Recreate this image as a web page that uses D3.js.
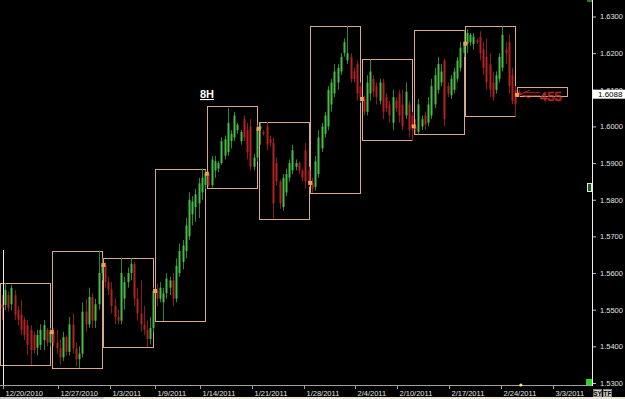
<!DOCTYPE html>
<html>
<head>
<meta charset="utf-8">
<script src="https://cdn.jsdelivr.net/npm/d3@7"></script>
<style>
  body { margin: 0; background: #000; overflow: hidden; }
  svg { display: block; font-family: "Liberation Sans", Arial, sans-serif; }
</style>
</head>
<body>
<script>
//wrap everything in a self-executing anonymous function
(function(){

//8H bars, one array per week: [open, high, low, close]
var week1 = [
    [1.5513, 1.5540, 1.5472, 1.5505], [1.5513, 1.5573, 1.5499, 1.5554], [1.5540, 1.5550, 1.5495, 1.5505], [1.5515, 1.5568, 1.5499, 1.5559],
    [1.5540, 1.5554, 1.5472, 1.5486], [1.5499, 1.5510, 1.5458, 1.5472], [1.5486, 1.5527, 1.5431, 1.5445], [1.5472, 1.5480, 1.5417, 1.5431],
    [1.5458, 1.5472, 1.5376, 1.5404], [1.5445, 1.5458, 1.5349, 1.5390], [1.5431, 1.5440, 1.5380, 1.5390], [1.5396, 1.5445, 1.5376, 1.5431],
    [1.5404, 1.5460, 1.5390, 1.5445], [1.5417, 1.5472, 1.5390, 1.5458], [1.5445, 1.5450, 1.5400, 1.5410], [1.5410, 1.5450, 1.5400, 1.5439]
];
var week2 = [
    [1.5439, 1.5450, 1.5400, 1.5410], [1.5410, 1.5445, 1.5380, 1.5395], [1.5395, 1.5420, 1.5350, 1.5370], [1.5370, 1.5440, 1.5360, 1.5425],
    [1.5425, 1.5430, 1.5375, 1.5385], [1.5385, 1.5480, 1.5375, 1.5460], [1.5460, 1.5490, 1.5380, 1.5395], [1.5395, 1.5410, 1.5345, 1.5365],
    [1.5365, 1.5400, 1.5341, 1.5380], [1.5380, 1.5520, 1.5370, 1.5495], [1.5495, 1.5530, 1.5440, 1.5460], [1.5460, 1.5560, 1.5450, 1.5535],
    [1.5535, 1.5545, 1.5450, 1.5470], [1.5470, 1.5530, 1.5450, 1.5515], [1.5515, 1.5661, 1.5500, 1.5600], [1.5600, 1.5640, 1.5580, 1.5622]
];
var week3 = [
    [1.5622, 1.5630, 1.5560, 1.5575], [1.5575, 1.5590, 1.5540, 1.5555], [1.5555, 1.5575, 1.5490, 1.5510], [1.5510, 1.5530, 1.5460, 1.5480],
    [1.5480, 1.5500, 1.5460, 1.5470], [1.5470, 1.5642, 1.5460, 1.5600], [1.5530, 1.5590, 1.5500, 1.5575], [1.5575, 1.5615, 1.5560, 1.5600],
    [1.5600, 1.5640, 1.5580, 1.5625], [1.5625, 1.5630, 1.5510, 1.5530], [1.5530, 1.5560, 1.5470, 1.5490], [1.5490, 1.5580, 1.5440, 1.5460],
    [1.5460, 1.5510, 1.5430, 1.5445], [1.5445, 1.5470, 1.5398, 1.5420], [1.5420, 1.5480, 1.5405, 1.5450], [1.5450, 1.5560, 1.5440, 1.5551]
];
var week4 = [
    [1.5551, 1.5570, 1.5510, 1.5530], [1.5530, 1.5575, 1.5520, 1.5560], [1.5520, 1.5560, 1.5469, 1.5545], [1.5545, 1.5600, 1.5530, 1.5585],
    [1.5560, 1.5590, 1.5540, 1.5580], [1.5580, 1.5600, 1.5510, 1.5530], [1.5530, 1.5640, 1.5520, 1.5620], [1.5600, 1.5680, 1.5590, 1.5660],
    [1.5630, 1.5690, 1.5610, 1.5675], [1.5660, 1.5750, 1.5640, 1.5730], [1.5700, 1.5820, 1.5690, 1.5800], [1.5760, 1.5810, 1.5730, 1.5795],
    [1.5780, 1.5830, 1.5740, 1.5815], [1.5790, 1.5860, 1.5750, 1.5845], [1.5820, 1.5885, 1.5800, 1.5860], [1.5840, 1.5880, 1.5830, 1.5871]
];
var week5 = [
    [1.5871, 1.5875, 1.5835, 1.5840], [1.5840, 1.5920, 1.5833, 1.5910], [1.5880, 1.5920, 1.5860, 1.5905], [1.5885, 1.5905, 1.5875, 1.5900],
    [1.5900, 1.5970, 1.5895, 1.5960], [1.5920, 1.5975, 1.5910, 1.5965], [1.5930, 1.6050, 1.5920, 1.6010], [1.5960, 1.5990, 1.5940, 1.5980],
    [1.5970, 1.6040, 1.5960, 1.6030], [1.5990, 1.6010, 1.5980, 1.6005], [1.5960, 1.5990, 1.5950, 1.5985], [1.6020, 1.6030, 1.5960, 1.5970],
    [1.5990, 1.6010, 1.5910, 1.5930], [1.6000, 1.6020, 1.5880, 1.5890], [1.5890, 1.5925, 1.5880, 1.5915], [1.5915, 1.6005, 1.5905, 1.5994]
];
var week6 = [
    [1.5994, 1.6010, 1.5950, 1.6000], [1.5985, 1.5990, 1.5975, 1.5980], [1.6000, 1.6013, 1.5935, 1.5950], [1.5965, 1.5975, 1.5945, 1.5955],
    [1.5955, 1.5970, 1.5748, 1.5790], [1.5900, 1.5915, 1.5840, 1.5850], [1.5850, 1.5855, 1.5775, 1.5790], [1.5780, 1.5870, 1.5770, 1.5860],
    [1.5820, 1.5885, 1.5810, 1.5870], [1.5860, 1.5910, 1.5850, 1.5900], [1.5880, 1.5950, 1.5870, 1.5935], [1.5890, 1.5910, 1.5880, 1.5900],
    [1.5900, 1.5905, 1.5870, 1.5880], [1.5880, 1.5885, 1.5850, 1.5860], [1.5935, 1.5955, 1.5830, 1.5850], [1.5880, 1.5890, 1.5835, 1.5846]
];
var week7 = [
    [1.5846, 1.5860, 1.5819, 1.5830], [1.5835, 1.5920, 1.5825, 1.5905], [1.5870, 1.5990, 1.5860, 1.5970], [1.5940, 1.6010, 1.5930, 1.6000],
    [1.5980, 1.6040, 1.5970, 1.6030], [1.6000, 1.6110, 1.5990, 1.6100], [1.6060, 1.6130, 1.6040, 1.6120], [1.6090, 1.6170, 1.6080, 1.6150],
    [1.6120, 1.6170, 1.6100, 1.6160], [1.6150, 1.6200, 1.6140, 1.6190], [1.6200, 1.6240, 1.6190, 1.6230], [1.6180, 1.6275, 1.6170, 1.6200],
    [1.6190, 1.6200, 1.6120, 1.6130], [1.6150, 1.6160, 1.6120, 1.6130], [1.6170, 1.6180, 1.6070, 1.6090], [1.6110, 1.6120, 1.6065, 1.6080]
];
var week8 = [
    [1.6075, 1.6085, 1.6030, 1.6040], [1.6040, 1.6140, 1.6030, 1.6120], [1.6090, 1.6183, 1.6070, 1.6150], [1.6130, 1.6140, 1.6080, 1.6095],
    [1.6110, 1.6120, 1.6060, 1.6080], [1.6070, 1.6130, 1.6060, 1.6120], [1.6120, 1.6130, 1.6020, 1.6040], [1.6080, 1.6090, 1.6040, 1.6050],
    [1.6060, 1.6070, 1.6010, 1.6030], [1.6010, 1.6100, 1.5990, 1.6080], [1.6070, 1.6080, 1.6040, 1.6050], [1.6090, 1.6100, 1.6010, 1.6030],
    [1.6060, 1.6100, 1.5990, 1.6000], [1.6030, 1.6120, 1.6020, 1.6095], [1.6060, 1.6070, 1.5970, 1.5990], [1.6030, 1.6040, 1.5961, 1.6000]
];
var week9 = [
    [1.6000, 1.6020, 1.5980, 1.5990], [1.5985, 1.6075, 1.5978, 1.6060], [1.6000, 1.6030, 1.5990, 1.6020], [1.6030, 1.6040, 1.5990, 1.6005],
    [1.6010, 1.6080, 1.6000, 1.6060], [1.6030, 1.6130, 1.6020, 1.6110], [1.6060, 1.6160, 1.6050, 1.6140], [1.6100, 1.6190, 1.6090, 1.6170],
    [1.6120, 1.6170, 1.6110, 1.6150], [1.6180, 1.6185, 1.6000, 1.6020], [1.6110, 1.6120, 1.6080, 1.6090], [1.6085, 1.6140, 1.6075, 1.6130],
    [1.6100, 1.6160, 1.6090, 1.6150], [1.6130, 1.6190, 1.6120, 1.6180], [1.6160, 1.6230, 1.6150, 1.6215], [1.6200, 1.6262, 1.6190, 1.6226]
];
var week10 = [
    [1.6226, 1.6265, 1.6200, 1.6255], [1.6230, 1.6255, 1.6220, 1.6250], [1.6225, 1.6255, 1.6210, 1.6245], [1.6235, 1.6240, 1.6225, 1.6230],
    [1.6245, 1.6260, 1.6180, 1.6200], [1.6210, 1.6230, 1.6140, 1.6160], [1.6190, 1.6240, 1.6100, 1.6120], [1.6170, 1.6200, 1.6080, 1.6100],
    [1.6120, 1.6150, 1.6070, 1.6080], [1.6100, 1.6150, 1.6090, 1.6140], [1.6130, 1.6200, 1.6120, 1.6190], [1.6160, 1.6273, 1.6150, 1.6250],
    [1.6210, 1.6230, 1.6170, 1.6200], [1.6230, 1.6250, 1.6090, 1.6110], [1.6140, 1.6160, 1.6060, 1.6070], [1.6100, 1.6110, 1.6027, 1.6060]
];
var week11 = [
    [1.6095, 1.6100, 1.6080, 1.6088]
];

//weekly range boxes: [high, low] and the weekly open marker
var boxHigh = [1.5573, 1.5661, 1.5642, 1.5885, 1.6057, 1.6013, 1.6275, 1.6183, 1.6262, 1.6273, 1.6108];
var boxLow  = [1.5349, 1.5341, 1.5398, 1.5469, 1.5833, 1.5748, 1.5819, 1.5961, 1.5978, 1.6027, 1.6083];
var weekOpen = [null, 1.5439, 1.5622, 1.5551, 1.5871, 1.5994, 1.5846, 1.6075, 1.6000, 1.6226, 1.6086];

//axis labels
var priceTicks = [1.53, 1.54, 1.55, 1.56, 1.57, 1.58, 1.59, 1.60, 1.61, 1.62, 1.63];
var dateTickIdx = [1, 18, 34, 48, 62, 78, 94, 110, 123, 139, 155, 171];
var dateLabels = ["12/20/2010", "12/27/2010", "1/3/2011", "1/9/2011", "1/14/2011", "1/21/2011",
                  "1/28/2011", "2/4/2011", "2/10/2011", "2/17/2011", "2/24/2011", "3/3/2011"];
var lastPrice = 1.6088;
var rangePips = "455";

var width = 625,
    height = 399,
    barsPerWeek = 16,
    axisX = 592,
    axisY = 385;

var weeks = [week1, week2, week3, week4, week5, week6, week7, week8, week9, week10, week11];

//flatten bars with running index
var bars = [];
weeks.forEach(function(w, wi){
    w.forEach(function(b, bi){
        bars.push({i: wi * barsPerWeek + bi, o: b[0], h: b[1], l: b[2], c: b[3]});
    });
});

var x = d3.scaleLinear().domain([0, 160]).range([0, 517]);
var y = d3.scaleLinear().domain([1.53, 1.63]).range([383, 16.5]);

var svg = d3.select("body").append("svg")
    .attr("width", width)
    .attr("height", height);

svg.append("rect").attr("width", width).attr("height", height).attr("fill", "#000");

//weekly boxes
var boxes = svg.selectAll(".box")
    .data(boxHigh)
    .enter()
    .append("rect")
    .attr("class", "box")
    .attr("x", function(d, i){ return Math.round(x(i * barsPerWeek)) + 0.5; })
    .attr("y", function(d){ return Math.round(y(d)) + 0.5; })
    .attr("width", function(d, i){ return Math.round(x(barsPerWeek)) - 2; })
    .attr("height", function(d, i){ return Math.round(y(boxLow[i]) - y(d)); })
    .attr("fill", "none")
    .attr("stroke", "#d8a890")
    .attr("stroke-width", 1);

//left session line
svg.append("line")
    .attr("x1", 3.5).attr("x2", 3.5)
    .attr("y1", 250).attr("y2", axisY)
    .attr("stroke", "#e8e8e8");

//candles
var candle = svg.selectAll(".candle")
    .data(bars)
    .enter()
    .append("g")
    .attr("class", "candle");

candle.append("line")
    .attr("x1", function(d){ return Math.round(x(d.i + 0.5)) + 0.5; })
    .attr("x2", function(d){ return Math.round(x(d.i + 0.5)) + 0.5; })
    .attr("y1", function(d){ return y(d.h); })
    .attr("y2", function(d){ return y(d.l); })
    .attr("stroke", function(d){ return d.c >= d.o ? "#2c8a2c" : "#8c1a1a"; })
    .attr("stroke-width", 1);

candle.append("rect")
    .attr("x", function(d){ return Math.round(x(d.i + 0.5)) - 0.5; })
    .attr("y", function(d){ return y(Math.max(d.o, d.c)); })
    .attr("width", 2)
    .attr("height", function(d){ return Math.max(1, Math.abs(y(d.o) - y(d.c))); })
    .attr("fill", function(d){ return d.c >= d.o ? "#46bd46" : "#b32222"; });

//weekly open markers
svg.selectAll(".openMark")
    .data(weekOpen)
    .enter()
    .filter(function(d){ return d !== null; })
    .append("rect")
    .attr("class", "openMark")
    .attr("x", function(d, i){ return x(weekOpen.indexOf(d) * barsPerWeek) - 2; })
    .attr("y", function(d){ return y(d) - 2; })
    .attr("width", 4)
    .attr("height", 4)
    .attr("fill", "#f0a050");

//range annotation in current week box
var ax = x(160) + 3,
    ay = y(lastPrice);
svg.append("path")
    .attr("d", "M" + ax + "," + ay + "l10,-4 M" + ax + "," + ay + "l10,4 M" + (ax + 4) + "," + (ay - 1.5) +
               "h16 M" + (ax + 4) + "," + (ay + 1.5) + "h16")
    .attr("stroke", "#d03030")
    .attr("fill", "none")
    .attr("stroke-width", 0.8);
svg.append("text")
    .attr("x", ax + 20)
    .attr("y", ay + 7)
    .attr("font-size", "13px")
    .attr("fill", "none")
    .attr("stroke", "#d03030")
    .attr("stroke-width", 0.7)
    .text(rangePips);

//8H label
svg.append("text")
    .attr("x", 200)
    .attr("y", 98)
    .attr("font-size", "11px")
    .attr("font-weight", "bold")
    .attr("fill", "#fff")
    .attr("text-decoration", "underline")
    .text("8H");

//x axis
svg.append("line")
    .attr("x1", 0).attr("x2", axisX)
    .attr("y1", axisY + 0.5).attr("y2", axisY + 0.5)
    .attr("stroke", "#a0a0a0");

var xTicks = svg.selectAll(".xtick")
    .data(dateTickIdx)
    .enter()
    .append("g")
    .attr("transform", function(d){ return "translate(" + (Math.round(x(d)) + 0.5) + "," + axisY + ")"; });
xTicks.append("line").attr("y1", 0).attr("y2", 4).attr("stroke", "#a0a0a0");
xTicks.append("text")
    .attr("x", 2)
    .attr("y", 10.5)
    .attr("font-size", "7.5px")
    .attr("fill", "#e0e0e0")
    .text(function(d, i){ return dateLabels[i]; });

//current bar marker on the x axis
svg.append("circle")
    .attr("cx", x(161.2)).attr("cy", axisY)
    .attr("r", 1.6)
    .attr("fill", "#f0f080");

//right price axis
svg.append("line")
    .attr("x1", axisX + 0.5).attr("x2", axisX + 0.5)
    .attr("y1", 0).attr("y2", axisY + 1)
    .attr("stroke", "#f0f0f0");

var yAxis = d3.axisRight(y)
    .tickValues(priceTicks)
    .tickSize(3)
    .tickSizeOuter(0)
    .tickPadding(4)
    .tickFormat(d3.format(".4f"));

var yg = svg.append("g")
    .attr("transform", "translate(" + (axisX + 1) + ",0)")
    .call(yAxis);
yg.select(".domain").remove();
yg.selectAll("line").attr("stroke", "#c0c0c0");
yg.selectAll("text")
    .attr("fill", "#e0e0e0")
    .attr("font-size", "7.5px")
    .attr("font-family", "'Liberation Sans', Arial, sans-serif");

//last price tag
svg.append("rect")
    .attr("x", axisX + 1).attr("y", y(lastPrice) - 4.5)
    .attr("width", 32).attr("height", 9)
    .attr("fill", "#fff");
svg.append("text")
    .attr("x", axisX + 6).attr("y", y(lastPrice) + 3)
    .attr("font-size", "8px")
    .attr("fill", "#000")
    .text(d3.format(".4f")(lastPrice));

//small marker icons at the axis
svg.append("rect")
    .attr("x", 587.5).attr("y", 183.5)
    .attr("width", 4).attr("height", 8)
    .attr("fill", "#1a5a1a").attr("stroke", "#e0e0e0").attr("stroke-width", 1);
svg.append("rect")
    .attr("x", 586).attr("y", 379)
    .attr("width", 6).attr("height", 6)
    .attr("fill", "#22dd22");
svg.append("rect")
    .attr("x", 587).attr("y", 0)
    .attr("width", 5).attr("height", 2)
    .attr("fill", "#2a7a2a");

//SY / TF buttons
[["SY", 593], ["TF", 603]].forEach(function(b){
    svg.append("rect")
        .attr("x", b[1] + 0.5).attr("y", 389.5)
        .attr("width", 8).attr("height", 7)
        .attr("fill", "#d4d0c8").attr("stroke", "#808080").attr("stroke-width", 1);
    svg.append("text")
        .attr("x", b[1] + 4.5).attr("y", 395.5)
        .attr("text-anchor", "middle")
        .attr("font-size", "6.5px")
        .attr("font-weight", "bold")
        .attr("fill", "#000")
        .text(b[0]);
});

//scroll bar strip
svg.append("rect").attr("x", 0).attr("y", 397).attr("width", width).attr("height", 2).attr("fill", "#ece9d8");
svg.append("rect").attr("x", 0).attr("y", 397).attr("width", 104).attr("height", 2).attr("fill", "#c8c8c8");

})();
</script>
</body>
</html>
